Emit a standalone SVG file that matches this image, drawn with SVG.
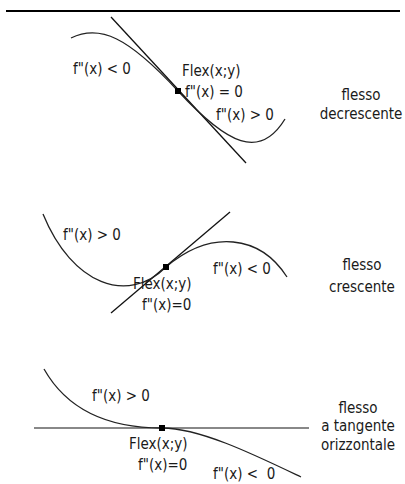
<svg xmlns="http://www.w3.org/2000/svg" width="405" height="484" viewBox="0 0 405 484">
<style>
text{font-family:"DejaVu Sans Condensed","DejaVu Sans",sans-serif;font-size:15px;fill:#1a1a1a;font-stretch:condensed;white-space:pre}
.r{text-anchor:middle}
.curve{fill:none;stroke:#222;stroke-width:1.3}
.tan{fill:none;stroke:#111;stroke-width:1.3}
.htan{fill:none;stroke:#888;stroke-width:2}
.pt{fill:#000}
</style>
<rect width="405" height="484" fill="#fff"/>
<line x1="6" y1="11" x2="400" y2="11" stroke="#000" stroke-width="2"/>
<g id="connectors">
<path class="tan" d="M111,17 L246,163"/>
<path class="curve" d="M71,38 C100,24 128,37 178,91 C228,145 260,160 285,119"/>
<path class="tan" d="M111,313 L230,212"/>
<path class="curve" d="M43,214 C72,285 128,305 166,267 C211,229 260,235 287,277"/>
<path class="htan" d="M34,428 L309,428"/>
<path class="curve" d="M44,369 C70,415 115,428 162,428 C200,428 255,455 301,477"/>
</g>
<g id="panel1">
<rect class="pt" x="175" y="88" width="6" height="6"/>
<text x="73" y="74">f"(x) &lt; 0</text>
<text x="182" y="76">Flex(x;y)</text>
<text x="185" y="97">f"(x) = 0</text>
<text x="216" y="120">f"(x) &gt; 0</text>
<text class="r" x="361" y="100">flesso</text>
<text class="r" x="361" y="119">decrescente</text>
</g>
<g id="panel2">
<rect class="pt" x="163" y="264" width="6" height="6"/>
<text x="63" y="240">f"(x) &gt; 0</text>
<text x="133" y="289">Flex(x;y)</text>
<text x="142" y="310">f"(x)=0</text>
<text x="213" y="274">f"(x) &lt; 0</text>
<text class="r" x="362" y="270">flesso</text>
<text class="r" x="362" y="292">crescente</text>
</g>
<g id="panel3">
<rect class="pt" x="159" y="425" width="6" height="6"/>
<text x="92" y="401">f"(x) &gt; 0</text>
<text x="129" y="449">Flex(x;y)</text>
<text x="138" y="470">f"(x)=0</text>
<text x="213" y="479">f"(x) &lt;  0</text>
<text class="r" x="358" y="413">flesso</text>
<text class="r" x="358" y="431">a tangente</text>
<text class="r" x="358" y="450">orizzontale</text>
</g>
</svg>
